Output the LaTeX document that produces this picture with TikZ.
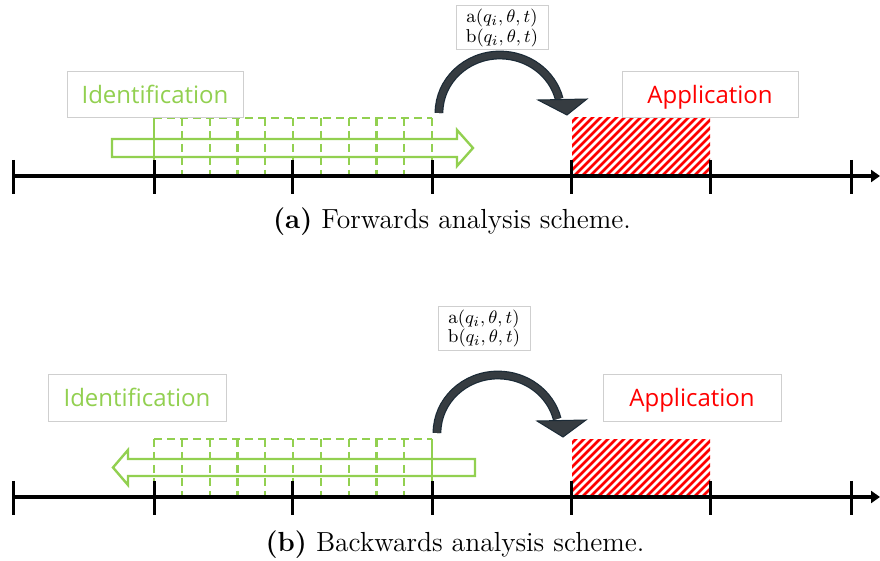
\documentclass[tikz,border=0pt]{standalone}
\usepackage{fontspec}
\newfontfamily\boxfont{Open Sans}
\usetikzlibrary{arrows.meta}
\definecolor{idgreen}{HTML}{92D050}
\definecolor{appred}{HTML}{FF0000}
\definecolor{boxgray}{HTML}{CFCFCF}
\definecolor{arcfill}{HTML}{363C41}
\definecolor{arcedge}{HTML}{1B2A36}
\begin{document}
\begin{tikzpicture}[x=0.5pt,y=-0.5pt,
  wordbox/.style={draw=boxgray, line width=0.5pt, fill=white, inner sep=0pt,
    text height=10pt, text depth=1.5pt,
    minimum width=88pt, minimum height=23pt, font=\boxfont\fontsize{12}{14}\selectfont},
  mathbox/.style={draw=boxgray, line width=0.5pt, fill=white, inner sep=0pt,
    minimum width=46pt, minimum height=22pt, align=center, font=\fontsize{9.3}{9.8}\selectfont},
  captiontext/.style={font=\fontsize{13.8}{16}\selectfont, inner sep=0pt},
  axisline/.style={line width=2pt, -{Triangle[length=4.5pt,width=6pt]}},
  tickline/.style={line width=1.5pt},
  gridline/.style={idgreen, line width=1.1pt, dash pattern=on 4pt off 2.5pt},
  gridsolid/.style={idgreen, line width=1.1pt},
  hollowarrow/.style={idgreen, line width=1.2pt, line join=miter},
  hatchline/.style={appred, line width=1.3pt},
  arcouter/.style={arcedge, line width=4.4pt},
  arcinner/.style={arcfill, line width=3.2pt},
  archead/.style={fill=arcfill, draw=arcedge, line width=0.5pt, line join=miter}
]
\useasboundingbox (0,0) rectangle (880,561);

% ================= panel (a) =================
\coordinate (a0) at (12,176);
\coordinate (aend) at (880,176);
% dashed grid
\foreach \k in {1,...,10} {
  \draw[gridline] ({154+27.8*\k},118) -- ({154+27.8*\k},176);
}
\draw[gridline] (154,118) -- (432,118);
\draw[gridsolid] (154,118) -- (154,176);
% hollow arrow (forwards)
\draw[hollowarrow] (112,139) -- (457,139) -- (457,130) -- (473,148) -- (457,166) -- (457,157) -- (112,157) -- cycle;
% hatched application interval
\begin{scope}
  \clip (572,118) rectangle (710,176);
  \foreach \k in {-8,...,18} {
    \draw[hatchline] ({572+8*\k},178) -- ++(62,-62);
  }
\end{scope}
% axis
\draw[axisline] (a0) -- (aend);
\foreach \x in {13,154,292,432,571,710,851} {
  \draw[tickline] (\x,160) -- (\x,194);
}
% boxes
\node[wordbox, text=idgreen] (ida) at (155,95) {Identification};
\node[wordbox, text=appred] (appa) at (710,95) {Application};
\node[mathbox] (laba) at (502,28) {$\mathrm{a}(q_i,\theta,t)$\\$\mathrm{b}(q_i,\theta,t)$};
% curved arrow
\coordinate (arcsa) at (439,113);
\draw[arcouter] (arcsa) arc[start angle=180, end angle=346, x radius=61, y radius=58];
\draw[arcinner] (arcsa) arc[start angle=180, end angle=346, x radius=61, y radius=58];
\draw[archead] (538,100) -- (587,99) -- (567,115) -- cycle;
\node[captiontext] (capa) at (452,222) {\textbf{(a)} Forwards analysis scheme.};

% ================= panel (b) =================
\begin{scope}[shift={(0,321)}]
\coordinate (b0) at (12,176);
\coordinate (bend) at (880,176);
\foreach \k in {0,...,9} {
  \draw[gridline] ({154+27.8*\k},118) -- ({154+27.8*\k},176);
}
\draw[gridline] (154,118) -- (432,118);
\draw[gridsolid] (432,118) -- (432,176);
% hollow arrow (backwards)
\draw[hollowarrow] (475,138) -- (128,138) -- (128,129) -- (113,146.5) -- (128,164) -- (128,155) -- (475,155) -- cycle;
\begin{scope}
  \clip (572,119) rectangle (710,176);
  \foreach \k in {-8,...,18} {
    \draw[hatchline] ({572+8*\k},178) -- ++(62,-62);
  }
\end{scope}
\draw[axisline] (b0) -- (bend);
\foreach \x in {13,154,292,432,571,710,851} {
  \draw[tickline] (\x,160) -- (\x,194);
}
\coordinate (arcsb) at (437,112);
\draw[arcouter] (arcsb) arc[start angle=180, end angle=346, x radius=61, y radius=58];
\draw[arcinner] (arcsb) arc[start angle=180, end angle=346, x radius=61, y radius=58];
\draw[archead] (537,100) -- (586,99) -- (563,116) -- cycle;
\end{scope}
\node[wordbox, text=idgreen, minimum width=89pt, minimum height=23.5pt] (idb) at (137,398.5) {Identification};
\node[wordbox, text=appred, minimum width=89pt, minimum height=23.5pt] (appb) at (692,398.5) {Application};
\node[mathbox] (labb) at (484,328.5) {$\mathrm{a}(q_i,\theta,t)$\\$\mathrm{b}(q_i,\theta,t)$};
\node[captiontext] (capb) at (455,545) {\textbf{(b)} Backwards analysis scheme.};
\end{tikzpicture}
\end{document}
